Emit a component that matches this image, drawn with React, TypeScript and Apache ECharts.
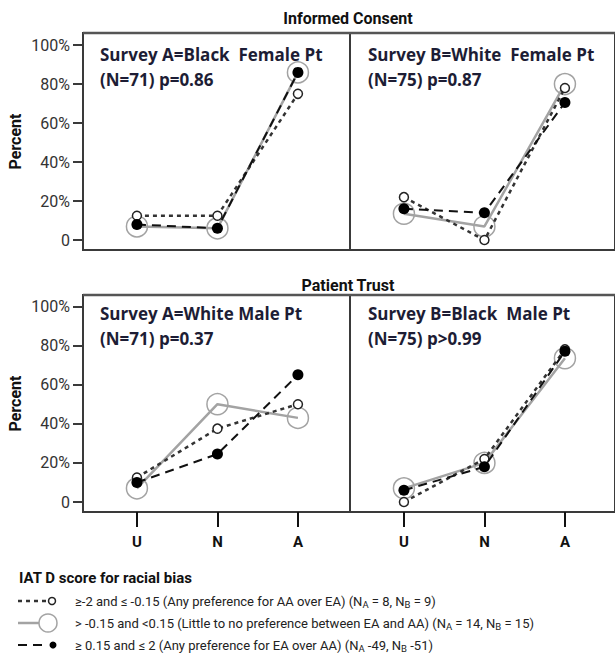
import React, { useEffect, useRef } from 'react';
import * as echarts from 'echarts';

const categories = ['U', 'N', 'A'];
const yTicks = [0, 20, 40, 60, 80, 100];
const sectionTitles = ['Informed Consent', 'Patient Trust'];
const panelHeadlines = [
  'Survey A=Black  Female Pt',
  'Survey B=White  Female Pt',
  'Survey A=White Male Pt',
  'Survey B=Black  Male Pt',
];
const panelStats = ['(N=71) p=0.86', '(N=75) p=0.87', '(N=71) p=0.37', '(N=75) p>0.99'];

// Any preference for AA over EA (dotted, small open circle)
const consentA_AA = [12.5, 12.5, 75];
const consentB_AA = [22, 0, 78];
const trustA_AA = [12.5, 37.5, 50];
const trustB_AA = [0, 22, 78];
// Little to no preference (grey solid, big open circle)
const consentA_None = [7, 6, 86];
const consentB_None = [13.5, 7, 80];
const trustA_None = [7, 50, 43];
const trustB_None = [7, 20, 73.5];
// Any preference for EA over AA (dashed, filled dot)
const consentA_EA = [8, 6, 86];
const consentB_EA = [16, 14, 70.5];
const trustA_EA = [10, 24.5, 65];
const trustB_EA = [6, 18, 77];

const legendTitle = 'IAT D score for racial bias';
const legendRows = [
  '≥-2 and ≤ -0.15 (Any preference for AA over EA) (N{s|A} = 8, N{s|B} = 9)',
  '> -0.15 and <0.15 (Little to no preference between EA and AA) (N{s|A} = 14, N{s|B} = 15)',
  '≥ 0.15 and ≤ 2 (Any preference for EA over AA) (N{s|A} -49, N{s|B} -51)',
];

const panelsAA = [consentA_AA, consentB_AA, trustA_AA, trustB_AA];
const panelsNone = [consentA_None, consentB_None, trustA_None, trustB_None];
const panelsEA = [consentA_EA, consentB_EA, trustA_EA, trustB_EA];

const NARROW = 'Roboto, sans-serif';
const HEAD = '"Open Sans", sans-serif';
const GRAY = '#a3a3a3';
const FRAME = '#3a3a3a';

export default function App() {
  const ref = useRef<HTMLDivElement>(null);
  useEffect(() => {
    if (!ref.current) return;
    const chart = echarts.init(ref.current, undefined, { renderer: 'svg' });
    const grids = [
      { left: 83, top: 33, width: 267, height: 217 },
      { left: 350, top: 33, width: 265, height: 217 },
      { left: 83, top: 295, width: 267, height: 217 },
      { left: 350, top: 295, width: 265, height: 217 },
    ];
    const unit = 80.5;
    const xMin = -0.67;
    const xAxis = grids.map((g, i) => ({
      type: 'value',
      gridIndex: i,
      position: 'bottom',
      min: xMin,
      max: xMin + g.width / unit,
      axisLine: { show: false, onZero: false },
      splitLine: { show: false },
      axisTick: {
        show: i >= 2,
        customValues: [0, 1, 2],
        length: 15,
        lineStyle: { color: '#111', width: 2 },
      },
      axisLabel: {
        show: i >= 2,
        customValues: [0, 1, 2],
        formatter: (v: number) => categories[Math.round(v)] ?? '',
        fontFamily: NARROW,
        fontWeight: 'bold',
        fontSize: 15,
        color: '#111',
        margin: 22,
      },
    }));
    const yAxis = grids.map((g, i) => ({
      type: 'value',
      gridIndex: i,
      position: 'left',
      min: -5.1,
      max: i < 2 ? 106.2 : 105.8,
      axisLine: { show: false, onZero: false },
      splitLine: { show: false },
      axisTick: {
        show: i % 2 === 0,
        customValues: yTicks,
        length: 10,
        lineStyle: { color: FRAME, width: 2 },
      },
      axisLabel: {
        show: i % 2 === 0,
        customValues: yTicks,
        formatter: (v: number) => (v === 0 ? '0' : v + '%'),
        fontFamily: NARROW,
        fontSize: 16,
        color: '#333',
        margin: 13,
      },
      name: i % 2 === 0 ? 'Percent' : '',
      nameLocation: 'middle',
      nameRotate: 90,
      nameGap: 60,
      nameTextStyle: { fontFamily: NARROW, fontWeight: 'bold', fontSize: 16, color: '#111' },
    }));

    const series: any[] = [];
    for (let p = 0; p < 4; p++) {
      series.push({
        type: 'line',
        xAxisIndex: p,
        yAxisIndex: p,
        z: 2,
        data: panelsNone[p].map((v, i) => [i, v]),
        symbol: 'circle',
        symbolSize: 21,
        itemStyle: { color: 'rgba(0,0,0,0)', borderColor: GRAY, borderWidth: 1.5 },
        lineStyle: { color: GRAY, width: 2.5 },
        silent: true,
      });
      series.push({
        type: 'line',
        xAxisIndex: p,
        yAxisIndex: p,
        z: 3,
        data: panelsAA[p].map((v, i) => [i, v]),
        symbol: 'circle',
        symbolSize: 9,
        itemStyle: { color: '#fff', borderColor: '#222', borderWidth: 1.5 },
        lineStyle: { color: '#333', width: 2.5, type: [4, 4] },
        silent: true,
      });
      series.push({
        type: 'line',
        xAxisIndex: p,
        yAxisIndex: p,
        z: 4,
        data: panelsEA[p].map((v, i) => [i, v]),
        symbol: 'circle',
        symbolSize: 11,
        itemStyle: { color: '#000', borderColor: '#000', borderWidth: 0 },
        lineStyle: { color: '#111', width: 2, type: [9, 6] },
        silent: true,
      });
    }

    const headX = [100, 368, 100, 368];
    const headY = [54, 54, 313, 313];
    const graphic: any[] = [];
    graphic.push({ type: 'line', shape: { x1: 83, y1: 33, x2: 615, y2: 33 }, style: { stroke: '#555', lineWidth: 2.5 }, z: 10 });
    graphic.push({ type: 'line', shape: { x1: 83, y1: 295, x2: 615, y2: 295 }, style: { stroke: '#555', lineWidth: 2.5 }, z: 10 });
    sectionTitles.forEach((t, i) => {
      graphic.push({
        type: 'text',
        x: 348,
        y: i === 0 ? 18 : 285,
        style: { text: t, fontFamily: NARROW, fontWeight: 'bold', fontSize: 16, fill: '#111', align: 'center', verticalAlign: 'middle' },
      });
    });
    for (let p = 0; p < 4; p++) {
      graphic.push({
        type: 'text',
        x: headX[p],
        y: headY[p],
        style: { text: panelHeadlines[p], fontFamily: HEAD, fontWeight: 'bold', fontSize: 17, fill: '#1d1d35', verticalAlign: 'middle' },
      });
      graphic.push({
        type: 'text',
        x: headX[p],
        y: headY[p] + 25,
        style: { text: panelStats[p], fontFamily: HEAD, fontWeight: 'bold', fontSize: 17, fill: '#1d1d35', verticalAlign: 'middle' },
      });
    }
    // legend
    graphic.push({
      type: 'text', x: 19, y: 578,
      style: { text: legendTitle, fontFamily: NARROW, fontWeight: 'bold', fontSize: 15, fill: '#111', verticalAlign: 'middle' },
    });
    const rowY = [601, 623, 645];
    graphic.push({ type: 'line', shape: { x1: 18, y1: rowY[0], x2: 46, y2: rowY[0] }, style: { stroke: '#333', lineWidth: 2.5, lineDash: [4, 4] } });
    graphic.push({ type: 'circle', shape: { cx: 52, cy: rowY[0], r: 3.5 }, style: { stroke: '#222', fill: '#fff', lineWidth: 1.5 } });
    graphic.push({ type: 'line', shape: { x1: 18, y1: rowY[1], x2: 39, y2: rowY[1] }, style: { stroke: GRAY, lineWidth: 2.5 } });
    graphic.push({ type: 'circle', shape: { cx: 48, cy: rowY[1], r: 9 }, style: { stroke: GRAY, fill: 'none', lineWidth: 1.5 } });
    graphic.push({ type: 'line', shape: { x1: 18, y1: rowY[2], x2: 47, y2: rowY[2] }, style: { stroke: '#111', lineWidth: 2, lineDash: [9, 6] } });
    graphic.push({ type: 'circle', shape: { cx: 53, cy: rowY[2], r: 3.5 }, style: { fill: '#000' } });
    legendRows.forEach((t, i) => {
      graphic.push({
        type: 'text', x: 75, y: rowY[i],
        style: {
          text: t, fontFamily: NARROW, fontSize: 13, fill: '#222', verticalAlign: 'middle',
          rich: { s: { fontFamily: NARROW, fontSize: 9.5, fill: '#222', padding: [6, 0, 0, 0] } },
        },
      });
    });

    chart.setOption({
      animation: false,
      backgroundColor: '#fff',
      grid: grids.map((g) => ({ ...g, show: true, borderColor: FRAME, borderWidth: 2, backgroundColor: 'transparent' })),
      xAxis,
      yAxis,
      series,
      graphic,
    });
    return () => chart.dispose();
  }, []);
  return <div ref={ref} style={{ width: 615, height: 659, position: 'absolute', left: 0, top: 0 }} />;
}
